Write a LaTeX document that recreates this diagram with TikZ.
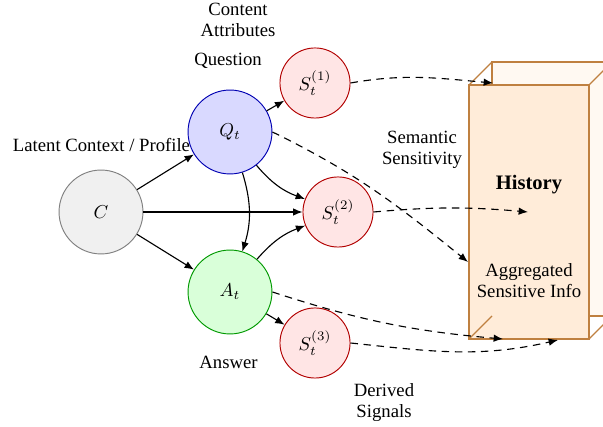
\documentclass[tikz,border=0pt]{standalone}
\usepackage{fontspec}
\setmainfont{Liberation Serif}
\usetikzlibrary{arrows.meta}
\begin{document}
\begin{tikzpicture}[x=0.535pt,y=0.535pt,
  lbl/.style={align=center, font=\fontsize{10}{11.2}\selectfont, inner sep=0pt},
  var/.style={circle, draw, line width=0.5pt, inner sep=0pt},
  big/.style={var, minimum size=44.9pt},
  sig/.style={var, minimum size=37.5pt, fill=red!10, draw=red!70!black},
  arr/.style={-{Latex[length=5pt,width=4pt]}, line width=0.6pt},
  darr/.style={arr, dash pattern=on 4pt off 3pt},
  edgebox/.style={draw=brown, line width=0.6pt},
]
\useasboundingbox (0,0) rectangle (603,427);
\clip (0,0) rectangle (603,427);

% History cuboid
\filldraw[edgebox, fill=orange!5] (492,111) rectangle (612,365);
\draw[edgebox] (469,342) -- (492,365);
\draw[edgebox] (589,342) -- (612,365);
\draw[edgebox] (589,88) -- (612,111);
\filldraw[edgebox, fill=orange!15] (469,88) rectangle (589,342);
\draw[edgebox] (469,88) -- (492,111);

% nodes
\node[big, fill=gray!12, draw=gray] (C) at (101,215) {$C$};
\node[big, fill=blue!15, draw=blue!70!black] (Q) at (230,295) {$Q_t$};
\node[big, fill=green!15, draw=green!60!black] (A) at (230,135) {$A_t$};
\node[sig] (S1) at (315,344) {$S_t^{(1)}$};
\node[sig] (S2) at (338,215) {$S_t^{(2)}$};
\node[sig] (S3) at (315,84) {$S_t^{(3)}$};

% labels
\node[lbl] (lcontent) at (238,407.5) {Content\\Attributes};
\node[lbl] (lquestion) at (228,366) {Question};
\node[lbl] (llatent) at (101.5,282) {Latent Context / Profile};
\node[lbl] (lsem) at (422,277) {Semantic\\Sensitivity};
\node[lbl, font=\fontsize{11}{13}\selectfont\bfseries] (lhist) at (529,242) {History};
\node[lbl] (lagg) at (529,146.5) {Aggregated\\Sensitive Info};
\node[lbl] (lanswer) at (228.5,65) {Answer};
\node[lbl] (lderived) at (384,24.5) {Derived\\Signals};

% solid arrows
\draw[arr] (C) -- (Q);
\draw[arr] (C) -- (S2);
\draw[arr] (C) -- (A);
\draw[arr] (Q) -- (S1);
\draw[arr] (Q) to[bend right=15] (S2);
\draw[arr] (Q) to[bend left=17] (A);
\draw[arr] (A) to[bend left=14] (S2);
\draw[arr] (A) -- (S3);

% dashed arrows to history
\coordinate (h1) at (493,344);
\coordinate (h2) at (468,165);
\coordinate (h3) at (528,215);
\coordinate (h4) at (503,88);
\coordinate (h5) at (558,87);
\draw[darr] (S1.east) to[out=10,in=175] (h1);
\draw[darr] (Q.east) to[out=-26,in=141] (h2);
\draw[darr] (S2.east) to[out=5,in=175] (h3);
\draw[darr] (A.east) to[out=-18,in=175] (h4);
\draw[darr] (S3.east) to[out=-6,in=193] (h5);
\end{tikzpicture}
\end{document}
